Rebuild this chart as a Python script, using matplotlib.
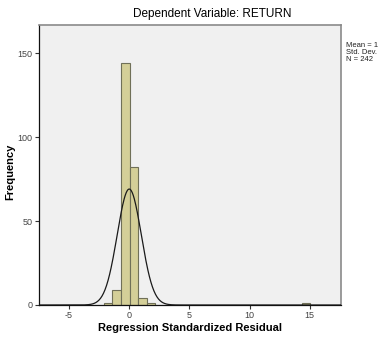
import numpy as np
import matplotlib
matplotlib.use("Agg")
import matplotlib.pyplot as plt

plt.rcParams['font.family'] = ['Liberation Sans', 'DejaVu Sans']
plt.rcParams['axes.unicode_minus'] = False

# Histogram data (bin left edges and counts)
bin_width = 0.715
bin_lefts = [-2.12, -1.405, -0.69, 0.025, 0.74, 1.455, 14.325]
counts = [1, 9, 144, 82, 4, 1, 1]
mean_val = 0.0
std_val = 1.0
n_obs = 242

xticks = [-5, 0, 5, 10, 15]
yticks = [0, 50, 100, 150]

fig = plt.figure(figsize=(3.79, 3.37), dpi=100)
ax = fig.add_axes([39/379, 1-305/337, (341-39)/379, (305-25)/337])
ax.set_facecolor('#F0F0F0')

ax.bar(bin_lefts, counts, width=bin_width, align='edge', color='#D4CF98',
       edgecolor='#707058', linewidth=0.8, zorder=2)

xs = np.linspace(-7.5, 17.6, 600)
ys = n_obs * bin_width / (std_val * np.sqrt(2*np.pi)) * np.exp(-0.5*((xs-mean_val)/std_val)**2)
ax.plot(xs, ys, color='#1a1a1a', linewidth=0.9, zorder=3)

ax.set_xlim(-7.5, 17.6)
ax.set_ylim(0, 166.7)
ax.set_xticks(xticks)
ax.set_yticks(yticks)
ax.tick_params(axis='both', direction='out', length=3, width=0.8, labelsize=6.5,
               labelcolor='#444444', color='#333333', pad=1.5)

for s in ['top', 'right']:
    ax.spines[s].set_color('#8a8a8a')
    ax.spines[s].set_linewidth(1.2)
for s in ['left', 'bottom']:
    ax.spines[s].set_color('#111111')
    ax.spines[s].set_linewidth(0.9)

ax.set_xlabel('Regression Standardized Residual', fontsize=8, fontweight='bold')
ax.set_ylabel('Frequency', fontsize=8, fontweight='bold')
ax.xaxis.set_label_coords(190/379, 1-328/337, transform=fig.transFigure)
ax.yaxis.set_label_coords(10/379, 1-172/337, transform=fig.transFigure)
ax.xaxis.label.set_va('center')
ax.yaxis.label.set_va('center')

fig.text(212/379, 1-14/337, 'Dependent Variable: RETURN', fontsize=8.5,
         ha='center', va='center')

fig.text(346/379, 1-42/337, 'Mean = 1\nStd. Dev.\nN = 242', fontsize=5.5,
         ha='left', va='top', linespacing=1.0, color='#222222')

fig.savefig('out.png', dpi=100)
